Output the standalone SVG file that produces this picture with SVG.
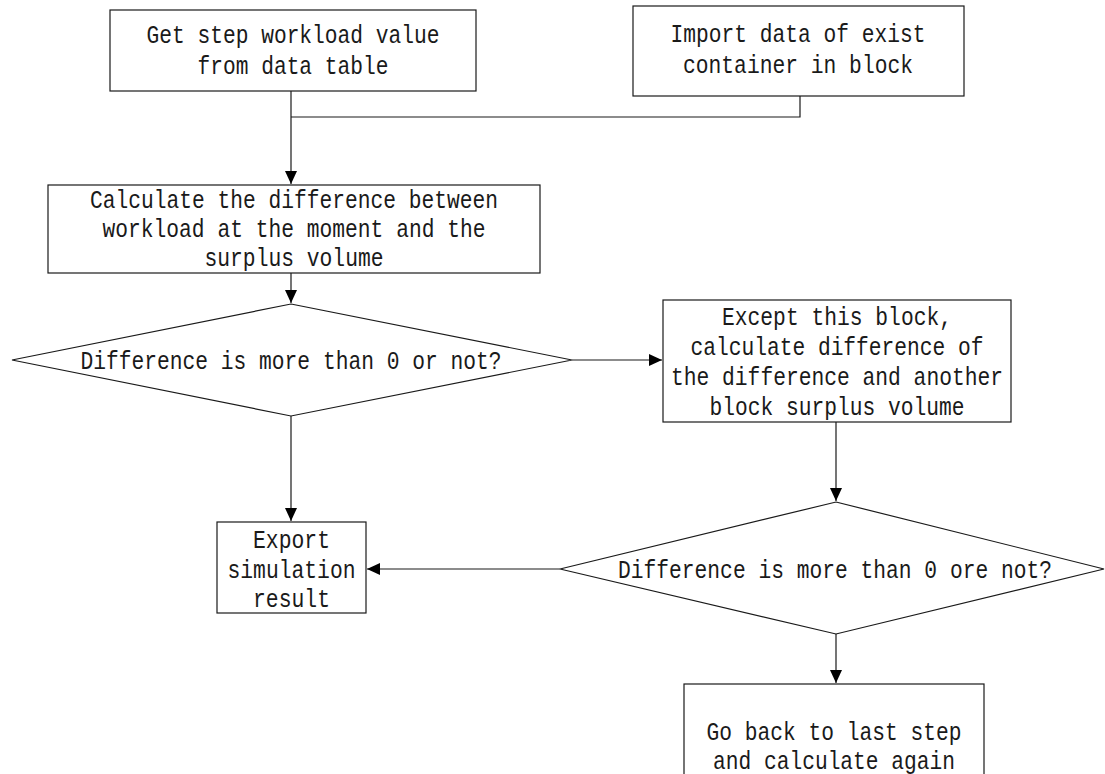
<svg xmlns="http://www.w3.org/2000/svg" width="1105" height="774" viewBox="0 0 1105 774">
<style>
.box{fill:#fff;stroke:#1a1a1a;stroke-width:1.2}
.con{fill:none;stroke:#1a1a1a;stroke-width:1.2}
text{font-family:"Liberation Mono","DejaVu Sans Mono",monospace;font-size:25px;fill:#1a1a1a;text-anchor:middle}
</style>
<defs>
<marker id="arr" markerUnits="userSpaceOnUse" markerWidth="14" markerHeight="12" refX="13" refY="6" orient="auto">
<path d="M0,0 L13,6 L0,12 Z" fill="#000"/>
</marker>
</defs>
<rect width="1105" height="774" fill="#fff"/>
<g id="connectors">
<path class="con" d="M291,91 V184" marker-end="url(#arr)"/>
<path class="con" d="M800,96 V117 H291"/>
<path class="con" d="M291,273 V303" marker-end="url(#arr)"/>
<path class="con" d="M572,360 H662" marker-end="url(#arr)"/>
<path class="con" d="M836,422 V501" marker-end="url(#arr)"/>
<path class="con" d="M291,416 V521" marker-end="url(#arr)"/>
<path class="con" d="M560,569 H367" marker-end="url(#arr)"/>
<path class="con" d="M836,634 V683" marker-end="url(#arr)"/>
</g>
<g id="n1">
<rect class="box" x="110" y="10" width="366" height="81"/>
<text x="293" y="43" textLength="293" lengthAdjust="spacingAndGlyphs">Get step workload value</text>
<text x="293" y="74" textLength="191" lengthAdjust="spacingAndGlyphs">from data table</text>
</g>
<g id="n2">
<rect class="box" x="633" y="6" width="331" height="90"/>
<text x="798" y="42" textLength="255" lengthAdjust="spacingAndGlyphs">Import data of exist</text>
<text x="798" y="73" textLength="230" lengthAdjust="spacingAndGlyphs">container in block</text>
</g>
<g id="n3">
<rect class="box" x="48" y="185" width="492" height="88"/>
<text x="294" y="208" textLength="408" lengthAdjust="spacingAndGlyphs">Calculate the difference between</text>
<text x="294" y="237" textLength="383" lengthAdjust="spacingAndGlyphs">workload at the moment and the</text>
<text x="294" y="266" textLength="179" lengthAdjust="spacingAndGlyphs">surplus volume</text>
</g>
<g id="n4">
<polygon class="box" points="291,304 572,360 291,416 12,360"/>
<text x="291" y="369" textLength="421" lengthAdjust="spacingAndGlyphs">Difference is more than 0 or not?</text>
</g>
<g id="n5">
<rect class="box" x="663" y="300" width="348" height="122"/>
<text x="837" y="325" textLength="230" lengthAdjust="spacingAndGlyphs">Except this block,</text>
<text x="837" y="355" textLength="293" lengthAdjust="spacingAndGlyphs">calculate difference of</text>
<text x="837" y="385" textLength="332" lengthAdjust="spacingAndGlyphs">the difference and another</text>
<text x="837" y="415" textLength="255" lengthAdjust="spacingAndGlyphs">block surplus volume</text>
</g>
<g id="n6">
<polygon class="box" points="836,502 1104,569 836,634 560,569"/>
<text x="835" y="578" textLength="434" lengthAdjust="spacingAndGlyphs">Difference is more than 0 ore not?</text>
</g>
<g id="n7">
<rect class="box" x="217" y="522" width="149" height="91"/>
<text x="291.5" y="548" textLength="77" lengthAdjust="spacingAndGlyphs">Export</text>
<text x="291.5" y="578" textLength="128" lengthAdjust="spacingAndGlyphs">simulation</text>
<text x="291.5" y="607" textLength="77" lengthAdjust="spacingAndGlyphs">result</text>
</g>
<g id="n8">
<rect class="box" x="684" y="684" width="300" height="130"/>
<text x="834" y="740" textLength="255" lengthAdjust="spacingAndGlyphs">Go back to last step</text>
<text x="834" y="769" textLength="242" lengthAdjust="spacingAndGlyphs">and calculate again</text>
</g>
</svg>
